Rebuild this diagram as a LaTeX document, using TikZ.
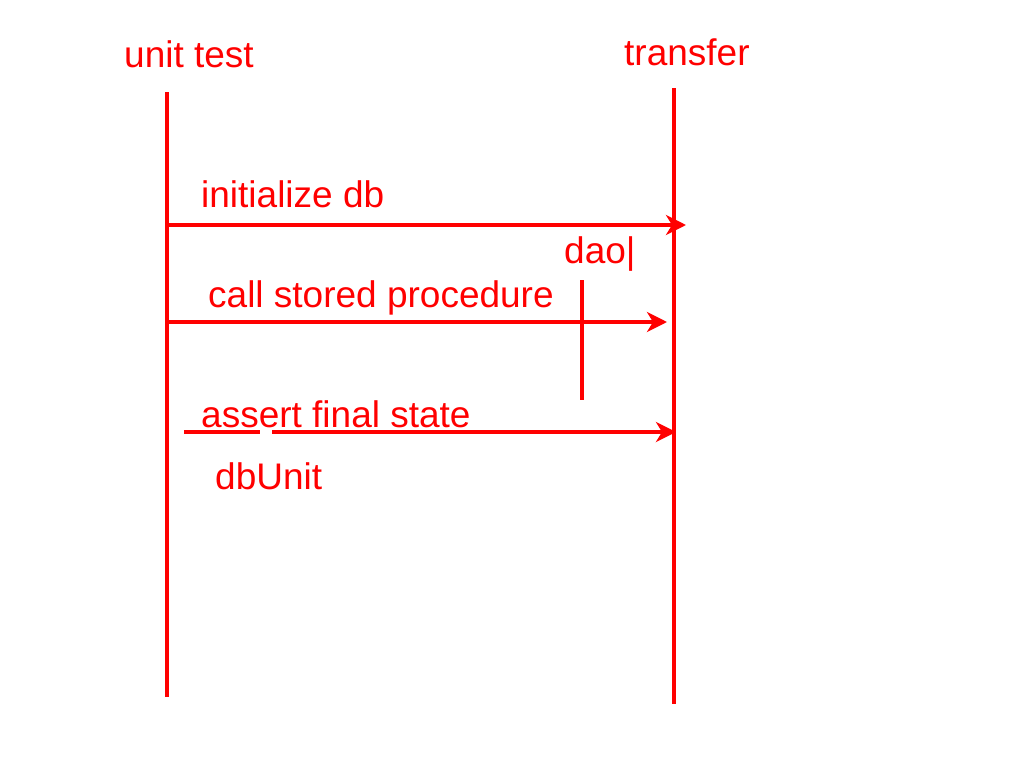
\documentclass[tikz,border=0pt]{standalone}
\usepackage{fontspec}
\setmainfont{Liberation Sans}
\usetikzlibrary{arrows.meta}
\definecolor{lred}{RGB}{255,0,0}
\begin{document}
\begin{tikzpicture}[x=1pt,y=-1pt,
  lbl/.style={anchor=base west,inner sep=0pt,text=lred,font=\fontsize{37}{44}\selectfont},
  life/.style={draw=lred,line width=3.5pt},
  msg/.style={draw=lred,line width=3.5pt,-{Stealth[length=20pt,width=20pt,inset=6pt]}},
  seg/.style={draw=lred,line width=3.5pt}]
\useasboundingbox[fill=white] (0,0) rectangle (1024,768);
% headers
\node[lbl] (ut) at (124,67) {unit test};
\node[lbl] (tr) at (624,65) {transfer};
% lifelines
\coordinate (utT) at (167,92);
\coordinate (utB) at (167,697);
\coordinate (trT) at (674,88);
\coordinate (trB) at (674,704);
\draw[life] (utT) -- (utB);
\draw[life] (trT) -- (trB);
% message 1
\coordinate (m1s) at (167,225);
\coordinate (m1e) at (686,225);
\draw[msg] (m1s) -- (m1e);
\node[lbl] (l1) at (201,207) {initialize db};
% dao
\node[lbl] (dao) at (564,263) {dao|};
\coordinate (daoT) at (582,280);
\coordinate (daoB) at (582,400);
\draw[seg] (daoT) -- (daoB);
% message 2
\coordinate (m2s) at (167,322);
\coordinate (m2e) at (667,322);
\draw[msg] (m2s) -- (m2e);
\node[lbl] (l2) at (208,307) {call stored procedure};
% message 3
\coordinate (m3a) at (184,432);
\coordinate (m3b) at (260,432);
\coordinate (m3s) at (272,432);
\coordinate (m3e) at (676,432);
\draw[seg] (m3a) -- (m3b);
\draw[msg] (m3s) -- (m3e);
\node[lbl] (l3) at (201,427) {assert final state};
\node[lbl] (du) at (215,489) {dbUnit};
\end{tikzpicture}
\end{document}
